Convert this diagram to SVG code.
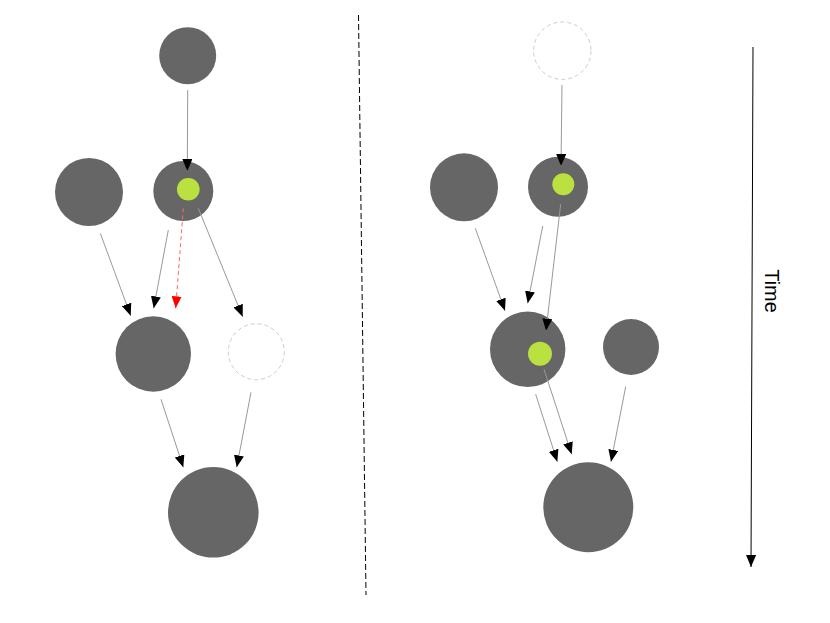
<svg xmlns="http://www.w3.org/2000/svg" width="830" height="623" viewBox="0 0 830 623">
<style>
.n{fill:#666666;stroke:none}
.g{fill:#bae13f;stroke:none}
.d{fill:#ffffff;stroke:#cccccc;stroke-width:1;stroke-dasharray:4 3}
.c{stroke:#999999;stroke-width:1;fill:none}
.r{stroke:#ff6666;stroke-width:1;fill:none;stroke-dasharray:4 3}
</style>
<defs>
<marker id="ah" viewBox="0 0 12 10" refX="12" refY="5" markerWidth="12" markerHeight="10" markerUnits="userSpaceOnUse" orient="auto"><path d="M0,0 L12,5 L0,10 z" fill="#000"/></marker>
<marker id="ahr" viewBox="0 0 12 10" refX="12" refY="5" markerWidth="12" markerHeight="10" markerUnits="userSpaceOnUse" orient="auto"><path d="M0,0 L12,5 L0,10 z" fill="#ff0000"/></marker>
</defs>
<rect width="830" height="623" fill="#ffffff"/>
<g id="L-top"><circle class="n" cx="187.7" cy="55.7" r="28.5"/></g>
<g id="L-left"><circle class="n" cx="89" cy="192" r="34"/></g>
<g id="L-mid"><circle class="n" cx="183.3" cy="191" r="30"/><circle class="g" cx="188.3" cy="189.3" r="11.3"/></g>
<g id="L-low"><circle class="n" cx="153.3" cy="354" r="37.7"/></g>
<g id="L-ghost"><circle class="d" cx="256.3" cy="351.7" r="28"/></g>
<g id="L-bottom"><circle class="n" cx="213.3" cy="512.3" r="45.3"/></g>
<g id="R-ghost"><circle class="d" cx="562.3" cy="50.7" r="28.7"/></g>
<g id="R-left"><circle class="n" cx="464" cy="187.3" r="34"/></g>
<g id="R-mid"><circle class="n" cx="558" cy="186.7" r="30"/><circle class="g" cx="563.3" cy="184.3" r="11"/></g>
<g id="R-low"><circle class="n" cx="527.7" cy="349.3" r="37.7"/><circle class="g" cx="540" cy="353.7" r="12"/></g>
<g id="R-right"><circle class="n" cx="631" cy="347" r="28"/></g>
<g id="R-bottom"><circle class="n" cx="588.3" cy="507.3" r="45"/></g>
<g id="connectors">
<line class="c" x1="187.7" y1="90" x2="187.3" y2="171" marker-end="url(#ah)"/>
<line class="c" x1="100.3" y1="233.3" x2="130.7" y2="315.7" marker-end="url(#ah)"/>
<line class="c" x1="168.3" y1="230" x2="153.7" y2="308.3" marker-end="url(#ah)"/>
<line class="r" x1="183.3" y1="208.3" x2="175.7" y2="308.3" marker-end="url(#ahr)"/>
<line class="c" x1="198.3" y1="208.3" x2="242.7" y2="316.7" marker-end="url(#ah)"/>
<line class="c" x1="161" y1="399.3" x2="183.3" y2="467.3" marker-end="url(#ah)"/>
<line class="c" x1="251" y1="392.3" x2="236.7" y2="467.3" marker-end="url(#ah)"/>
<line class="c" x1="562" y1="85" x2="561" y2="166" marker-end="url(#ah)"/>
<line class="c" x1="475.3" y1="228.3" x2="505" y2="310.7" marker-end="url(#ah)"/>
<line class="c" x1="542.7" y1="226" x2="527.7" y2="303.3" marker-end="url(#ah)"/>
<line class="c" x1="560.7" y1="204" x2="546" y2="330.7" marker-end="url(#ah)"/>
<line class="c" x1="535.7" y1="394.3" x2="557.3" y2="461.7" marker-end="url(#ah)"/>
<line class="c" x1="544" y1="369.3" x2="571.7" y2="454.3" marker-end="url(#ah)"/>
<line class="c" x1="625.7" y1="386.7" x2="611" y2="461.7" marker-end="url(#ah)"/>
</g>
<line x1="358.5" y1="15" x2="366" y2="595" stroke="#000" stroke-width="1" stroke-dasharray="6 3"/>
<g id="time">
<line x1="753" y1="47" x2="751" y2="567" stroke="#000" stroke-width="1" marker-end="url(#ah)"/>
<text x="0" y="0" transform="translate(764.5,291) rotate(90)" font-family="Liberation Sans, Arial, sans-serif" font-size="20" text-anchor="middle" fill="#000">Time</text>
</g>
</svg>
